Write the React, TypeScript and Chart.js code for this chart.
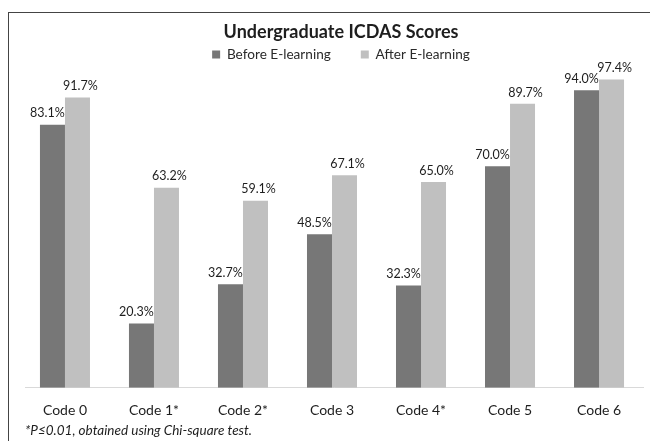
import React, { useEffect, useRef } from "react";
import { Chart, registerables } from "chart.js";

Chart.register(...registerables);

const categories = ["Code 0", "Code 1*", "Code 2*", "Code 3", "Code 4*", "Code 5", "Code 6"];
const beforeValues = [83.1, 20.3, 32.7, 48.5, 32.3, 70.0, 94.0];
const afterValues = [91.7, 63.2, 59.1, 67.1, 65.0, 89.7, 97.4];
const seriesLabels = ["Before E-learning", "After E-learning"];
const titleText = "Undergraduate ICDAS Scores";
const footnoteText = "*P\u22640.01, obtained using Chi-square test.";

const DARK = "#777777";
const LIGHT = "#c0c0c0";
const FONT = "Lato, 'Noto Sans', sans-serif";

const labelOffsets = [-5, 3];

const valueLabelPlugin = {
  id: "valueLabels",
  afterDatasetsDraw(chart: any) {
    const ctx = chart.ctx;
    ctx.save();
    ctx.font = `12.5px ${FONT}`;
    ctx.fillStyle = "#1e1e1e";
    ctx.textAlign = "center";
    ctx.textBaseline = "bottom";
    chart.data.datasets.forEach((ds: any, di: number) => {
      const meta = chart.getDatasetMeta(di);
      meta.data.forEach((bar: any, i: number) => {
        const v = ds.data[i].y;
        ctx.fillText(v.toFixed(1) + "%", bar.x + labelOffsets[di], bar.y - 5);
      });
    });
    ctx.restore();
  },
};

export default function App() {
  const ref = useRef<HTMLCanvasElement | null>(null);
  useEffect(() => {
    if (!ref.current) return;
    const chart = new Chart(ref.current, {
      type: "bar",
      data: {
        datasets: [
          { label: seriesLabels[0], data: beforeValues.map((v, i) => ({ x: i, y: v })), backgroundColor: DARK, borderWidth: 0 },
          { label: seriesLabels[1], data: afterValues.map((v, i) => ({ x: i, y: v })), backgroundColor: LIGHT, borderWidth: 0 },
        ],
      },
      options: {
        animation: false,
        responsive: false,
        maintainAspectRatio: false,
        layout: { padding: { left: 25, right: 13, top: 0, bottom: 2 } },
        datasets: { bar: { categoryPercentage: 0.562, barPercentage: 1 } },
        scales: {
          x: {
            type: "linear",
            offset: false,
            min: -0.449,
            max: 6.494,
            grid: { display: false, drawTicks: false },
            border: { display: true, color: "#d9d9d9", width: 1 },
            ticks: {
              color: "#1e1e1e",
              font: { family: FONT, size: 14 },
              padding: 14,
              stepSize: 1,
              includeBounds: false,
              autoSkip: false,
              maxRotation: 0,
              callback: (v: any) => (Number.isInteger(v) && categories[v] !== undefined ? categories[v] : ""),
            },
            afterFit: (s: any) => { s.height = 35; },
          },
          y: {
            min: 0,
            max: 100,
            display: false,
          },
          y2: {
            min: 0,
            max: 100,
            position: "right",
            ticks: { display: false },
            grid: { display: false, drawTicks: false },
            border: { display: false },
            afterFit: (s: any) => { s.width = 14; },
          },
        },
        plugins: {
          title: {
            display: true,
            text: titleText,
            color: "#1e1e1e",
            font: { family: FONT, size: 18, weight: "bold" },
            padding: { top: 21, bottom: -25 },
          },
          legend: {
            display: true,
            labels: {
              color: "#2a2a2a",
              font: { family: FONT, size: 13.6 },
              boxWidth: 8,
              boxHeight: 8,
              padding: 30,
            },
          },
          subtitle: {
            display: true,
            position: "bottom",
            align: "start",
            text: footnoteText,
            color: "#1e1e1e",
            font: { family: FONT, size: 13.5, style: "italic" },
            padding: { top: 0, bottom: 0 },
          },
          tooltip: { enabled: false },
        },
      },
      plugins: [valueLabelPlugin],
    });
    return () => chart.destroy();
  }, []);

  return (
    <div style={{ position: "fixed", left: 0, top: 0, width: 650, height: 441, overflow: "hidden", background: "#ffffff" }}>
      <canvas ref={ref} width={670} height={441} style={{ position: "absolute", left: 0, top: 0, width: 670, height: 441 }} />
      <div style={{ position: "absolute", left: 8, top: 12, width: 700, height: 500, borderTop: "1.5px solid #444", borderLeft: "1.5px solid #444", pointerEvents: "none" }} />
    </div>
  );
}
